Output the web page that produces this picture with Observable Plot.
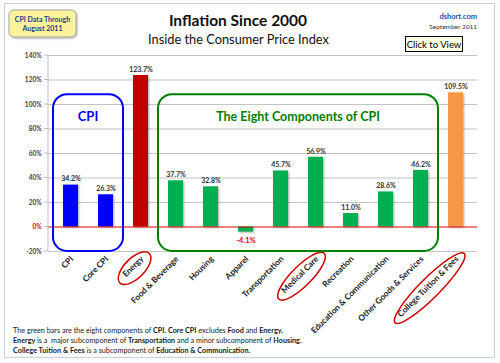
<!DOCTYPE html>
<html>
<head>
<meta charset="utf-8">
<script src="https://cdn.jsdelivr.net/npm/d3@7"></script>
<script src="https://cdn.jsdelivr.net/npm/@observablehq/plot@0.6"></script>
<style>
  html, body { margin: 0; padding: 0; background: #fff; }
  #chart svg { display: block; font-family: Lato, "Open Sans", sans-serif; }
</style>
</head>
<body>
<div id="chart"></div>
<script>
const categories = ["CPI", "Core CPI", "Energy", "Food & Beverage", "Housing", "Apparel",
  "Transportation", "Medical Care", "Recreation", "Education & Communication",
  "Other Goods & Services", "College Tuition & Fees"];
const values = [34.2, 26.3, 123.7, 37.7, 32.8, -4.1, 45.7, 56.9, 11.0, 28.6, 46.2, 109.5];
const groups = ["CPI", "CPI", "Energy", "Component", "Component", "Component", "Component",
  "Component", "Component", "Component", "Component", "Tuition"];
const groupNames = ["CPI", "Energy", "Component", "Tuition"];
const groupColors = ["#0000ff", "#c00000", "#00b050", "#f79646"];
const yTicks = [-20, 0, 20, 40, 60, 80, 100, 120, 140];
const circled = ["Energy", "Medical Care", "College Tuition & Fees"];
const cpiBox = ["CPI", "Core CPI"];
const componentBox = ["Food & Beverage", "Other Goods & Services"];

const data = categories.map((c, i) => ({category: c, value: values[i], group: groups[i]}));
const fmt = v => v.toFixed(1) + "%";

const chart = Plot.plot({
  width: 500,
  height: 363,
  marginLeft: 48,
  marginRight: 23,
  marginTop: 55,
  marginBottom: 112,
  style: {background: "#fff", fontFamily: "Lato, 'Open Sans', sans-serif", overflow: "visible"},
  x: {domain: categories, paddingInner: 0.58, paddingOuter: 0.29, axis: null},
  y: {domain: [-20, 140], axis: null},
  color: {domain: groupNames, range: groupColors},
  marks: [
    Plot.ruleY(yTicks.filter(d => d !== 0), {stroke: "#c4c4c4", strokeWidth: 1.2}),
    Plot.barY(data, {x: "category", y: "value", fill: "group"}),
    Plot.ruleY([0], {stroke: "#e00000", strokeWidth: 1.2}),
    Plot.text(data.filter(d => d.value >= 0), {x: "category", y: "value", text: d => fmt(d.value),
      dy: -6, fontSize: 7, fontWeight: "bold", fill: "#333"}),
    Plot.text(data.filter(d => d.value < 0), {x: "category", y: "value", text: d => fmt(d.value),
      dy: 9, fontSize: 7.5, fontWeight: "bold", fill: "#e00000"}),
    Plot.text(yTicks, {y: d => d, frameAnchor: "left", dx: -7, textAnchor: "end",
      text: d => d + "%", fontSize: 6.5, fontWeight: "bold",
      fill: d => d === 0 ? "#e00000" : "#404040"}),
    Plot.text(categories, {x: d => d, frameAnchor: "bottom", dy: 8, dx: 3, rotate: -45,
      textAnchor: "end", text: d => d, fontSize: 8.3, fontWeight: "bold", fill: "#222"})
  ]
});

document.getElementById("chart").appendChild(chart);

const svg = d3.select(chart);
const xs = chart.scale("x");
const ys = chart.scale("y");
const step = xs.step, bw = xs.bandwidth;
const pad = (step - bw) / 2;

svg.selectAll('g[aria-label="bar"]').style("filter", "drop-shadow(1.5px 1px 1px rgba(0,0,0,0.35))");

// ellipses round highlighted labels
svg.selectAll("text").each(function() {
  const tr = this.getAttribute("transform") || "";
  if (!tr.includes("rotate")) return;
  const t = this.textContent;
  if (!circled.includes(t)) return;
  const L = this.getComputedTextLength();
  d3.select(this.parentNode).append("ellipse")
    .attr("transform", tr)
    .attr("cx", -L / 2).attr("cy", -0.5).attr("rx", L / 2 + 8).attr("ry", 10)
    .attr("fill", "none").attr("stroke", "#d00000").attr("stroke-width", 1.5);
});

// y axis line and ticks
svg.append("line").attr("x1", 48).attr("x2", 48)
  .attr("y1", ys.apply(140)).attr("y2", ys.apply(-20)).attr("stroke", "#bdbdbd");
yTicks.forEach(t => {
  svg.append("line").attr("x1", 44).attr("x2", 48).attr("y1", ys.apply(t)).attr("y2", ys.apply(t))
    .attr("stroke", "#bdbdbd");
});

// rounded group boxes
function box(cats, color, label, labelSize) {
  const x1 = xs.apply(cats[0]) - pad;
  const x2 = xs.apply(cats[1]) + bw + pad;
  const y1 = ys.apply(108), y2 = ys.apply(-20);
  svg.append("rect").attr("x", x1).attr("y", y1).attr("width", x2 - x1).attr("height", y2 - y1)
    .attr("rx", 14).attr("fill", "none").attr("stroke", color).attr("stroke-width", 2);
  svg.append("text").attr("x", (x1 + x2) / 2).attr("y", ys.apply(86)).attr("text-anchor", "middle")
    .attr("font-size", labelSize).attr("font-weight", "bold").attr("fill", color).text(label);
}
box(cpiBox, "#0000ff", "CPI", 13);
box(componentBox, "#008000", "The Eight Components of CPI", 12.5);

// outer frame
svg.insert("rect", ":first-child").attr("x", 4.5).attr("y", 3.5).attr("width", 490).attr("height", 354)
  .attr("fill", "none").attr("stroke", "#8fa4c0").attr("stroke-dasharray", "1 1");

// header
const note = svg.append("g");
note.append("rect").attr("x", 9).attr("y", 10).attr("width", 67).attr("height", 27).attr("rx", 5)
  .attr("fill", "#faf39b").attr("stroke", "#a8a8a8")
  .style("filter", "drop-shadow(1.5px 1.5px 1px rgba(0,0,0,0.3))");
note.append("text").attr("x", 42.5).attr("y", 21.5).attr("text-anchor", "middle")
  .attr("font-size", 7).attr("font-weight", "bold").attr("fill", "#1f3f8f").text("CPI Data Through");
note.append("text").attr("x", 42.5).attr("y", 31).attr("text-anchor", "middle")
  .attr("font-size", 7).attr("font-weight", "bold").attr("fill", "#1f3f8f").text("August 2011");

svg.append("text").attr("x", 238).attr("y", 26).attr("text-anchor", "middle")
  .attr("font-size", 15.5).attr("font-weight", "bold").attr("fill", "#111").text("Inflation Since 2000");
svg.append("text").attr("x", 238.5).attr("y", 44).attr("text-anchor", "middle")
  .attr("font-size", 12.8).attr("fill", "#111").text("Inside the Consumer Price Index");

svg.append("text").attr("x", 477).attr("y", 19).attr("text-anchor", "end")
  .attr("font-size", 7.5).attr("font-weight", "bold").attr("fill", "#1f4e9a").text("dshort.com");
svg.append("text").attr("x", 477).attr("y", 29).attr("text-anchor", "end")
  .attr("font-size", 6.5).attr("fill", "#333").text("September 2011");

svg.append("rect").attr("x", 405.5).attr("y", 36.5).attr("width", 57).attr("height", 15)
  .attr("fill", "#ffffe6").attr("stroke", "#000");
svg.append("text").attr("x", 434).attr("y", 47.5).attr("text-anchor", "middle")
  .attr("font-size", 9.5).attr("fill", "#000").text("Click to View");

// footer
const footLines = [
  [["The green bars are the eight components of ", false], ["CPI.", true], [" ", false], ["Core CPI", true],
   [" excludes ", false], ["Food", true], [" and ", false], ["Energy.", true]],
  [["Energy", true], [" is a  major subcomponent of ", false], ["Transportation", true],
   [" and a minor subcomponent of ", false], ["Housing.", true]],
  [["College Tuition & Fees", true], [" is a subcomponent of ", false], ["Education & Communication.", true]]
];
const footWidths = [270, 289, 237];
footLines.forEach((parts, i) => {
  const t = svg.append("text").attr("x", 0).attr("y", 0).attr("font-size", 7.4)
    .attr("text-anchor", "start").attr("fill", "#1a1a1a").style("white-space", "pre");
  parts.forEach(([s, b]) => t.append("tspan").attr("font-weight", b ? "bold" : "normal").text(s));
  const w = t.node().getComputedTextLength();
  const k = footWidths[i] / w;
  t.attr("transform", `translate(13,${333 + i * 10}) scale(${k},1)`);
});
</script>
</body>
</html>
